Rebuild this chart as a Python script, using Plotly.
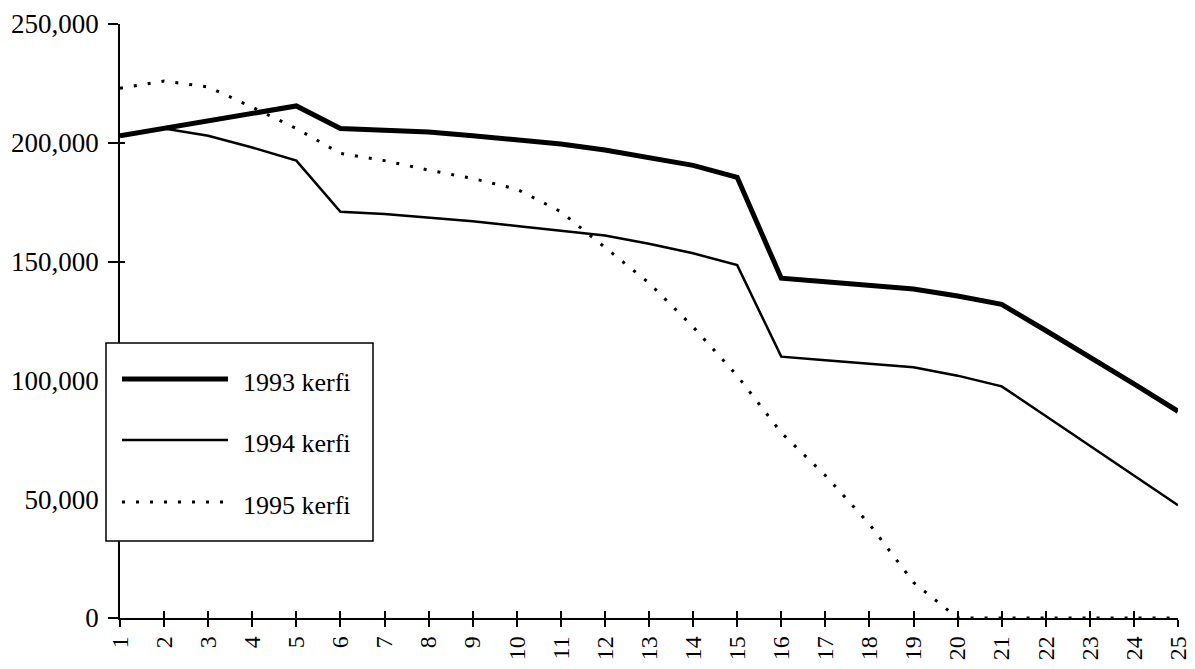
import plotly.graph_objects as go

# ---- data ----
categories = list(range(1, 26))
tick_labels = [str(c) for c in categories]
series_names = ["1993 kerfi", "1994 kerfi", "1995 kerfi"]

kerfi_1993 = [203000, 206000, 209000, 212000, 215500, 206000, 205500, 204500, 203000,
              201500, 199500, 197000, 194000, 190500, 185500, 143000, 141500, 140000,
              138500, 135500, 132000, 121000, 110000, 98500, 87000]
kerfi_1994 = [203000, 206000, 203000, 198000, 192500, 171000, 170000, 168500, 167000,
              165000, 163000, 161000, 157500, 153500, 148500, 110000, 108500, 107000,
              105500, 102000, 97500, 85000, 72500, 60000, 47500]
kerfi_1995 = [223000, 226000, 223500, 215000, 206000, 195500, 192500, 188500, 185000,
              180500, 171000, 156000, 141000, 122500, 102000, 78000, 60000, 39500,
              15000, 0, 0, 0, 0, 0, 0]

y_ticks = [0, 50000, 100000, 150000, 200000, 250000]

FONT = "Liberation Serif"
styles = [
    dict(color="black", width=5, dash="solid"),
    dict(color="black", width=2.5, dash="solid"),
    dict(color="black", width=3, dash="3px,11px"),
]

L, R, T, B = 120, 17, 24, 51
W, H = 1195, 669
PW, PH = W - L - R, H - T - B

fig = go.Figure()
for name, vals, st in zip(series_names, [kerfi_1993, kerfi_1994, kerfi_1995], styles):
    fig.add_trace(go.Scatter(x=categories, y=vals, mode="lines", name=name,
                             line=st, showlegend=False))

fig.update_layout(
    width=W, height=H,
    margin=dict(l=L, r=R, t=T, b=B),
    paper_bgcolor="white", plot_bgcolor="white",
    font=dict(family=FONT, size=26, color="black"),
    xaxis=dict(range=[1, 25], tickmode="array", tickvals=categories, ticktext=tick_labels,
               tickangle=-90, showgrid=False, zeroline=False, showline=True,
               linecolor="black", linewidth=1.5, ticks="outside", ticklen=7,
               tickwidth=1.5, tickcolor="black", automargin=False,
               ticklabeloverflow="allow",
               tickfont=dict(family=FONT, size=24)),
    yaxis=dict(range=[0, 250000], tickmode="array", tickvals=y_ticks,
               ticktext=[f"{v:,}" for v in y_ticks],
               showgrid=False, zeroline=False, showline=True, linecolor="black",
               linewidth=1.5, ticks="outside", ticklen=10, tickwidth=1.5,
               tickcolor="black", automargin=False, ticklabelstandoff=4,
               ticklabeloverflow="allow",
               tickfont=dict(family=FONT, size=27)),
    xaxis2=dict(overlaying="x", anchor="y", side="bottom", range=[1, 25],
                tickmode="array", tickvals=categories,
                ticks="inside", ticklen=7, tickwidth=1.5, tickcolor="black",
                showticklabels=False, showgrid=False, zeroline=False, showline=False),
    yaxis2=dict(overlaying="y", anchor="x", side="left", range=[0, 250000],
                tickmode="array", tickvals=y_ticks,
                ticks="inside", ticklen=5, tickwidth=1.5, tickcolor="black",
                showticklabels=False, showgrid=False, zeroline=False, showline=False),
)
# invisible trace that activates the overlay axes (used only for the crossing ticks)
fig.add_trace(go.Scatter(x=[categories[0]], y=[y_ticks[0]], xaxis="x2", yaxis="y2",
                         mode="markers", marker=dict(opacity=0), showlegend=False,
                         hoverinfo="skip"))

# ---- custom legend box (drawn in paper coordinates) ----
def px_x(p):
    return (p - L) / float(PW)

def px_y(p):
    return (T + PH - p) / float(PH)

shapes = [dict(type="rect", xref="paper", yref="paper", layer="above",
               x0=px_x(106), x1=px_x(373), y0=px_y(541), y1=px_y(343),
               fillcolor="white", line=dict(color="black", width=1.5))]
annotations = []
legend_rows = [379, 440, 502]
for name, st, ry in zip(series_names, styles, legend_rows):
    shapes.append(dict(type="line", xref="paper", yref="paper", layer="above",
                       x0=px_x(122), x1=px_x(228), y0=px_y(ry), y1=px_y(ry),
                       line=st))
    annotations.append(dict(xref="paper", yref="paper", x=px_x(241), y=px_y(ry + 3),
                            xanchor="left", yanchor="middle", showarrow=False,
                            text=name, font=dict(family=FONT, size=26, color="black")))
fig.update_layout(shapes=shapes, annotations=annotations)

fig.write_html("out.html", config={"displayModeBar": False},
               post_script="document.body.style.margin='0';document.body.style.overflow='hidden';")
